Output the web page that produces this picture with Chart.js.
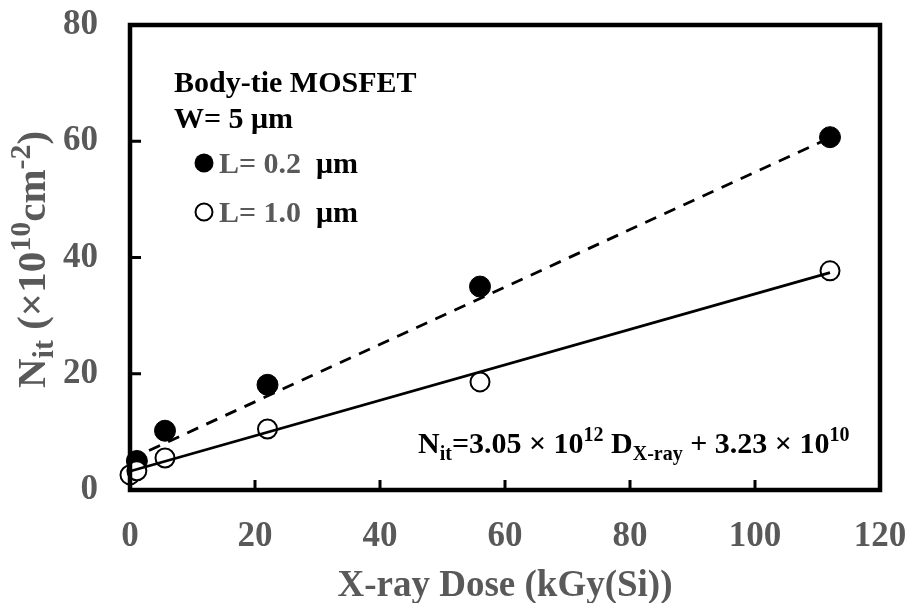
<!DOCTYPE html>
<html>
<head>
<meta charset="utf-8">
<script src="https://cdn.jsdelivr.net/npm/chart.js@4.4.1/dist/chart.umd.min.js"></script>
<style>
  html, body { margin: 0; padding: 0; background: #fff; }
  #wrap { width: 912px; height: 603px; position: relative; }
</style>
</head>
<body>
<div id="wrap"><canvas id="nit-chart"></canvas></div>
<script>
// Interface trap density vs X-ray dose (Body-tie MOSFET, W = 5 um)
const doseL02 = [1.1, 5.6, 22, 56, 112];
const nitL02 = [5.0, 10.2, 18.1, 35.0, 60.7];
const doseL10 = [0, 1.1, 5.6, 22, 56, 112];
const nitL10 = [2.6, 3.3, 5.5, 10.5, 18.6, 37.7];

// linear fits, drawn between the end doses
const fitDose = [0, 112];
const fitL02 = [5.3, 60.6];
const fitL10 = [3.23, 37.4];

const xTicks = [0, 20, 40, 60, 80, 100, 120];
const yTicks = [0, 20, 40, 60, 80];

const GREY = '#595959';
const SERIF = '"Liberation Serif", "Times New Roman", serif';

function toPoints(xs, ys) {
    return xs.map((x, i) => ({ x: x, y: ys[i] }));
}

// draws a run of text pieces with their own size / vertical shift
function drawRich(ctx, parts, x, y) {
    let cx = x;
    parts.forEach(p => {
        ctx.font = `bold ${p.size}px ${SERIF}`;
        ctx.fillStyle = p.color || '#000';
        ctx.fillText(p.t, cx, y + (p.dy || 0));
        cx += ctx.measureText(p.t).width;
    });
    return cx - x;
}

const decorPlugin = {
    id: 'decor',
    afterDraw(chart) {
        const ctx = chart.ctx;
        const area = chart.chartArea;
        const xs = chart.scales.x;
        const ys = chart.scales.y;
        ctx.save();

        // frame
        ctx.strokeStyle = '#000';
        ctx.lineWidth = 4.5;
        ctx.strokeRect(area.left, area.top, area.right - area.left, area.bottom - area.top);

        // inward ticks
        ctx.lineWidth = 3;
        ctx.beginPath();
        xTicks.slice(1, -1).forEach(v => {
            const px = xs.getPixelForValue(v);
            ctx.moveTo(px, area.bottom);
            ctx.lineTo(px, area.bottom - 10);
        });
        yTicks.slice(1, -1).forEach(v => {
            const py = ys.getPixelForValue(v);
            ctx.moveTo(area.left, py);
            ctx.lineTo(area.left + 11, py);
        });
        ctx.stroke();

        ctx.textBaseline = 'alphabetic';
        ctx.textAlign = 'left';

        // x title
        ctx.font = `bold 37px ${SERIF}`;
        ctx.fillStyle = GREY;
        ctx.textAlign = 'center';
        ctx.fillText('X-ray Dose (kGy(Si))', (area.left + area.right) / 2, 596);
        ctx.textAlign = 'left';

        // y title (rotated)
        ctx.save();
        ctx.translate(45, 388);
        ctx.rotate(-Math.PI / 2);
        drawRich(ctx, [
            { t: 'N', size: 41, color: GREY },
            { t: 'it', size: 30, dy: 8, color: GREY },
            { t: ' (\u00d710', size: 41, color: GREY },
            { t: '10', size: 30, dy: -15, color: GREY },
            { t: 'cm', size: 41, color: GREY },
            { t: '-2', size: 30, dy: -15, color: GREY },
            { t: ')', size: 41, color: GREY }
        ], 0, 0);
        ctx.restore();

        // legend block
        drawRich(ctx, [{ t: 'Body-tie MOSFET', size: 30 }], 174, 92);
        drawRich(ctx, [{ t: 'W= 5 \u03bcm', size: 30 }], 174, 128);

        ctx.fillStyle = '#000';
        ctx.beginPath();
        ctx.arc(204, 163, 9.5, 0, Math.PI * 2);
        ctx.fill();
        drawRich(ctx, [
            { t: 'L= 0.2  ', size: 30, color: GREY },
            { t: '\u03bcm', size: 30 }
        ], 219, 173);

        ctx.beginPath();
        ctx.arc(204, 212, 8.5, 0, Math.PI * 2);
        ctx.fillStyle = '#fff';
        ctx.fill();
        ctx.lineWidth = 2;
        ctx.strokeStyle = '#000';
        ctx.stroke();
        drawRich(ctx, [
            { t: 'L= 1.0  ', size: 30, color: GREY },
            { t: '\u03bcm', size: 30 }
        ], 219, 222);

        // fit equation
        drawRich(ctx, [
            { t: 'N', size: 30 },
            { t: 'it', size: 20, dy: 7 },
            { t: '=3.05 \u00d7 10', size: 30 },
            { t: '12', size: 20, dy: -12 },
            { t: ' D', size: 30 },
            { t: 'X-ray', size: 20, dy: 7 },
            { t: ' + 3.23 \u00d7 10', size: 30 },
            { t: '10', size: 20, dy: -12 }
        ], 418, 453);

        ctx.restore();
    }
};

const ctx = document.getElementById('nit-chart');
new Chart(ctx, {
    type: 'scatter',
    data: {
        datasets: [
            {
                label: 'fit L=1.0',
                type: 'line',
                data: toPoints(fitDose, fitL10),
                borderColor: '#000',
                borderWidth: 2.8,
                pointRadius: 0,
                fill: false,
                clip: false,
                order: 0
            },
            {
                label: 'fit L=0.2',
                type: 'line',
                data: toPoints(fitDose, fitL02),
                borderColor: '#000',
                borderWidth: 2.8,
                borderDash: [12, 9],
                pointRadius: 0,
                fill: false,
                clip: false,
                order: 0
            },
            {
                label: 'L= 1.0 um',
                data: toPoints(doseL10, nitL10),
                pointRadius: 9.5,
                pointBackgroundColor: '#fff',
                pointBorderColor: '#000',
                pointBorderWidth: 2,
                clip: false,
                order: 1
            },
            {
                label: 'L= 0.2 um',
                data: toPoints(doseL02, nitL02),
                pointRadius: 10.5,
                pointBackgroundColor: '#000',
                pointBorderColor: '#000',
                pointBorderWidth: 1,
                clip: false,
                order: 2
            }
        ]
    },
    options: {
        responsive: true,
        maintainAspectRatio: false,
        animation: false,
        layout: {
            padding: { top: 25, right: 32, bottom: 0, left: 0 }
        },
        plugins: {
            legend: { display: false },
            tooltip: { enabled: false }
        },
        scales: {
            x: {
                type: 'linear',
                min: 0,
                max: 120,
                afterFit: s => {
                    s.height = 113;
                    s.paddingLeft = 0;
                    s.paddingRight = 0;
                },
                afterBuildTicks: s => { s.ticks = xTicks.map(v => ({ value: v })); },
                grid: { display: false, drawTicks: false },
                border: { display: false },
                ticks: {
                    padding: 26,
                    color: GREY,
                    font: { family: SERIF, size: 35, weight: 'bold' }
                }
            },
            y: {
                type: 'linear',
                min: 0,
                max: 80,
                afterFit: s => {
                    s.width = 130;
                    s.paddingTop = 0;
                    s.paddingBottom = 0;
                },
                afterBuildTicks: s => { s.ticks = yTicks.map(v => ({ value: v })); },
                grid: { display: false, drawTicks: false },
                border: { display: false },
                ticks: {
                    padding: 32,
                    color: GREY,
                    font: { family: SERIF, size: 35, weight: 'bold' }
                }
            }
        }
    },
    plugins: [decorPlugin]
});
</script>
</body>
</html>
